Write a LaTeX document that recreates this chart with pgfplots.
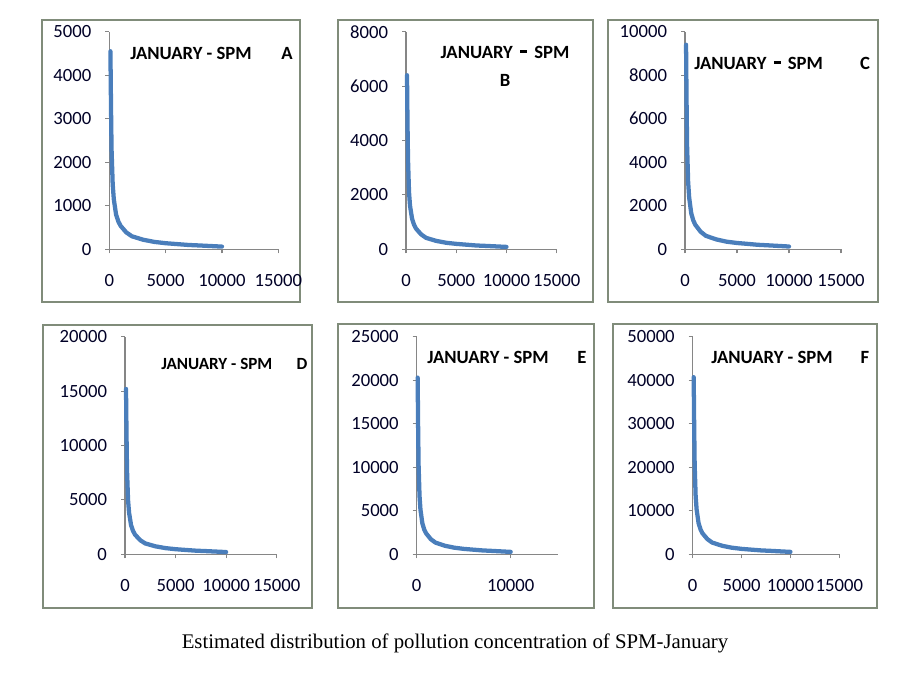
\documentclass[border=0pt]{standalone}
\usepackage{pgfplots}
\pgfplotsset{compat=1.18}
\usepackage{fontspec}
\setmainfont{Carlito}
\newfontfamily\capfont{Liberation Serif}
\definecolor{curve}{RGB}{74,126,187}
\definecolor{frame}{RGB}{128,140,122}
\definecolor{axgray}{RGB}{134,134,134}
\newcommand{\px}{0.75pt}
\newcommand{\thickdash}{\,\raisebox{3.5pt}{\rule{5pt}{2.2pt}}\,}
\pgfplotsset{
  panel/.style={
    scale only axis,
    axis lines*=left,
    axis line style={-, draw=axgray, line width=1pt},
    tick align=outside,
    major tick length=3pt,
    tick style={draw=axgray, line width=0.8pt},
    xmin=0, xmax=15000, ymin=0,
    height=217.6*\px,
    anchor=origin,
    clip=false,
    scaled ticks=false,
    /pgf/number format/assume math mode=true,
    /pgf/number format/set thousands separator={},
    tick label style={font=\fontsize{14}{16}\selectfont, text=black!85!blue},
    yticklabel style={xshift=-7pt},
    xticklabel style={yshift=-12pt},
    xtick={0,5000,10000,15000},
  },
  curvestyle/.style={curve, line width=3.2pt, line join=round, line cap=round, no marks},
}
\begin{document}
\begin{tikzpicture}[x=\px, y=\px]
\path (0,0) rectangle (902,676);
% frames
\draw[frame, line width=0.9pt] (42,656) rectangle (300,374);
\draw[frame, line width=0.9pt] (338,656) rectangle (593,374);
\draw[frame, line width=0.9pt] (608,656) rectangle (878,374);
\draw[frame, line width=0.9pt] (43,351) rectangle (312,68);
\draw[frame, line width=0.9pt] (338,352) rectangle (594,68);
\draw[frame, line width=0.9pt] (613,352) rectangle (877,68);

% A
\begin{axis}[panel, at={(109.3*\px,426.7*\px)}, width=169*\px, ymax=5000, ytick={0,1000,2000,3000,4000,5000}]
\addplot[curvestyle] coordinates {(100,4550) (150,3300) (200,2300) (300,1500) (400,1150) (600,800) (800,640) (1000,540) (1500,390) (2000,300) (3000,220) (4000,170) (5000,140) (6000,120) (7000,100) (8000,88) (9000,75) (10000,62)};
\end{axis}
\node[font=\bfseries\fontsize{14}{16}\selectfont, anchor=west, inner sep=0pt] at (130,623) {JANUARY - SPM};
\node[font=\bfseries\fontsize{14}{16}\selectfont] at (287,623) {A};

% B
\begin{axis}[panel, at={(406*\px,426.7*\px)}, width=150.7*\px, ymax=8000, ytick={0,2000,4000,6000,8000}]
\addplot[curvestyle] coordinates {(100,6400) (150,4600) (200,3300) (300,2100) (400,1600) (600,1130) (800,900) (1000,760) (1500,550) (2000,420) (3000,310) (4000,240) (5000,200) (6000,170) (7000,140) (8000,124) (9000,106) (10000,88)};
\end{axis}
\node[font=\bfseries\fontsize{14}{16}\selectfont] at (505,624) {JANUARY \thickdash\ SPM};
\node[font=\bfseries\fontsize{14}{16}\selectfont] at (505,596) {B};

% C
\begin{axis}[panel, at={(685*\px,426.7*\px)}, width=156*\px, ymax=10000, ytick={0,2000,4000,6000,8000,10000}]
\addplot[curvestyle] coordinates {(100,9400) (150,6800) (200,4750) (300,3100) (400,2380) (600,1650) (800,1320) (1000,1120) (1500,810) (2000,620) (3000,455) (4000,350) (5000,290) (6000,250) (7000,207) (8000,182) (9000,155) (10000,128)};
\end{axis}
\node[font=\bfseries\fontsize{14}{16}\selectfont, anchor=west, inner sep=0pt] at (694,613) {JANUARY \thickdash\ SPM};
\node[font=\bfseries\fontsize{14}{16}\selectfont] at (865,613) {C};

% D
\begin{axis}[panel, at={(125*\px,121.7*\px)}, width=151.7*\px, ymax=20000, ytick={0,5000,10000,15000,20000}]
\addplot[curvestyle] coordinates {(100,15200) (150,11000) (200,7700) (300,5000) (400,3840) (600,2670) (800,2140) (1000,1800) (1500,1300) (2000,1000) (3000,735) (4000,570) (5000,470) (6000,400) (7000,334) (8000,294) (9000,250) (10000,207)};
\end{axis}
\node[font=\bfseries\fontsize{12.8}{15}\selectfont, anchor=west, inner sep=0pt] at (161,312) {JANUARY - SPM};
\node[font=\bfseries\fontsize{12.8}{15}\selectfont] at (302,312) {D};

% E
\begin{axis}[panel, at={(416.7*\px,121.7*\px)}, width=141*\px, ymax=25000, ytick={0,5000,10000,15000,20000,25000}, xtick={0,10000}]
\addplot[curvestyle] coordinates {(100,20300) (150,14700) (200,10260) (300,6700) (400,5130) (600,3570) (800,2850) (1000,2410) (1500,1740) (2000,1340) (3000,980) (4000,760) (5000,625) (6000,535) (7000,446) (8000,392) (9000,335) (10000,277)};
\end{axis}
\node[font=\bfseries\fontsize{14}{16}\selectfont, anchor=west, inner sep=0pt] at (427,318.3) {JANUARY - SPM};
\node[font=\bfseries\fontsize{14}{16}\selectfont] at (582,318.3) {E};

% F
\begin{axis}[panel, at={(692.7*\px,121.7*\px)}, width=146.6*\px, ymax=50000, ytick={0,10000,20000,30000,40000,50000}]
\addplot[curvestyle] coordinates {(100,40700) (150,29500) (200,20600) (300,13400) (400,10300) (600,7160) (800,5730) (1000,4830) (1500,3490) (2000,2690) (3000,1970) (4000,1520) (5000,1250) (6000,1070) (7000,895) (8000,790) (9000,670) (10000,555)};
\end{axis}
\node[font=\bfseries\fontsize{14}{16}\selectfont, anchor=west, inner sep=0pt] at (711,318.3) {JANUARY - SPM};
\node[font=\bfseries\fontsize{14}{16}\selectfont] at (865,318.3) {F};

\node[font=\capfont\fontsize{15.6}{18}\selectfont] at (455,33) {Estimated distribution of pollution concentration of SPM-January};
\end{tikzpicture}
\end{document}
